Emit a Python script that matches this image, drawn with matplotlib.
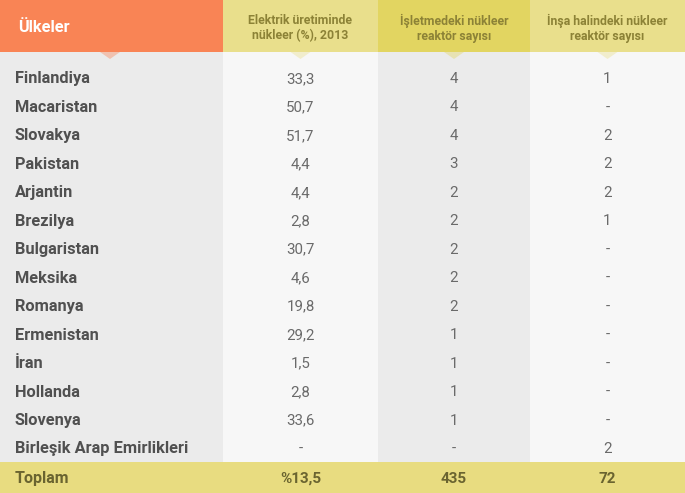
import matplotlib
matplotlib.use("Agg")
import matplotlib.pyplot as plt
from matplotlib.patches import Rectangle, Polygon

# table data
countries = ["Finlandiya", "Macaristan", "Slovakya", "Pakistan", "Arjantin",
             "Brezilya", "Bulgaristan", "Meksika", "Romanya", "Ermenistan",
             "İran", "Hollanda", "Slovenya", "Birleşik Arap Emirlikleri"]
share_2013 = ["33,3", "50,7", "51,7", "4,4", "4,4", "2,8", "30,7", "4,6",
              "19,8", "29,2", "1,5", "2,8", "33,6", "-"]
operating = ["4", "4", "4", "3", "2", "2", "2", "2", "2", "1", "1", "1", "1", "-"]
building = ["1", "-", "2", "2", "2", "1", "-", "-", "-", "-", "-", "-", "-", "2"]
headers = ["Ülkeler", "Elektrik üretiminde\nnükleer (%), 2013",
           "İşletmedeki nükleer\nreaktör sayısı", "İnşa halindeki nükleer\nreaktör sayısı"]
totals = ["Toplam", "%13,5", "435", "72"]

W, H = 685, 493
fig = plt.figure(figsize=(W / 100, H / 100), dpi=100)
ax = fig.add_axes([0, 0, 1, 1])
ax.set_xlim(0, W)
ax.set_ylim(H, 0)
ax.axis("off")

font = "Roboto"
col_edges = [0, 223, 378, 530, W]
col_bg = ["#ebebeb", "#f7f7f7", "#ebebeb", "#f7f7f7"]
head_bg = ["#f98455", "#e9df8c", "#e2d561", "#e9df8c"]
head_h = 52
foot_top = 462

# column bodies
for i in range(4):
    x0, x1 = col_edges[i], col_edges[i + 1]
    ax.add_patch(Rectangle((x0, head_h), x1 - x0, foot_top - head_h,
                           color=col_bg[i], lw=0))
    ax.add_patch(Rectangle((x0, 0), x1 - x0, head_h, color=head_bg[i], lw=0))
    cx = (x0 + x1) / 2 if i else 110
    ax.add_patch(Polygon([(cx - 10, head_h), (cx + 10, head_h), (cx, head_h + 7)],
                         closed=True, color=head_bg[i], lw=0, alpha=0.4))

# header texts
ax.text(18, 27, headers[0], color="white", fontsize=11.8, fontweight="bold",
        family=font, va="center", ha="left")
centers = [(col_edges[i] + col_edges[i + 1]) / 2 for i in range(1, 4)]
for cx, h in zip(centers, headers[1:]):
    ax.text(cx, 28, h, color="#8c8236", fontsize=8.8, fontweight="bold",
            family=font, va="center", ha="center", linespacing=1.2)

# body rows
y0, dy = 79, 28.46
for r in range(len(countries)):
    y = y0 + r * dy
    ax.text(15, y, countries[r], color="#505050", fontsize=11.8, fontweight="bold",
            family=font, va="center", ha="left")
    for cx, v in zip(centers, [share_2013[r], operating[r], building[r]]):
        ax.text(cx, y, v, color="#6a6a6a", fontsize=10.8, family=font,
                va="center", ha="center")

# footer
ax.add_patch(Rectangle((0, foot_top), W, H - foot_top, color="#e8dc80", lw=0))
fy = (foot_top + H) / 2 + 1.5
ax.text(15, fy, totals[0], color="#6a6430", fontsize=11.5, fontweight="bold",
        family=font, va="center", ha="left")
for cx, v in zip(centers, totals[1:]):
    ax.text(cx, fy, v, color="#6a6430", fontsize=11, fontweight="bold",
            family=font, va="center", ha="center")

fig.savefig("out.png", dpi=100)
